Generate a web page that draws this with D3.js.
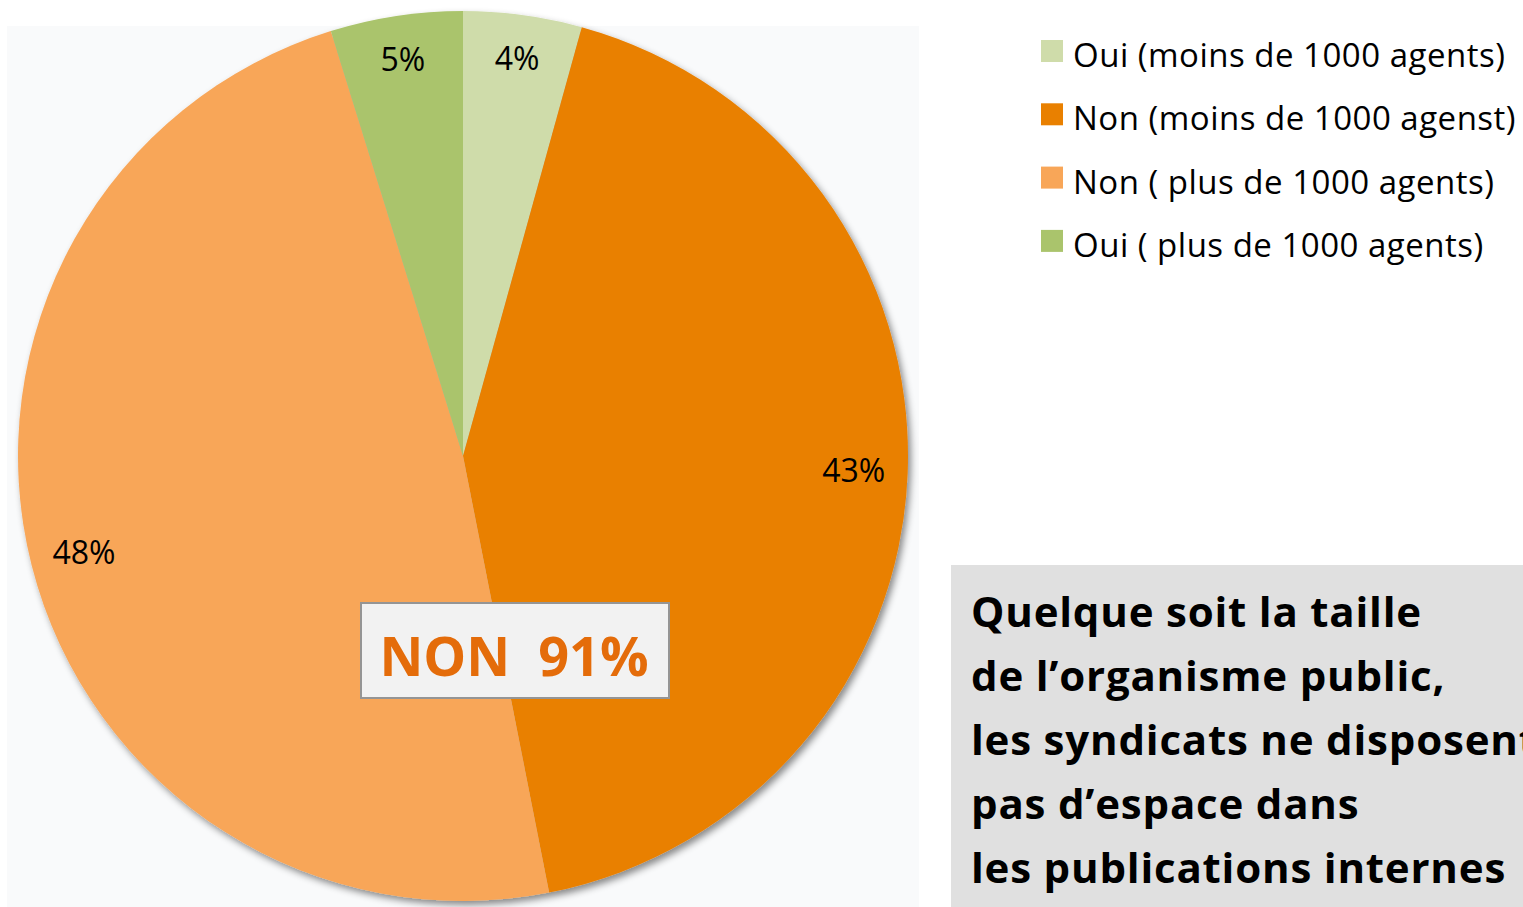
<!DOCTYPE html>
<html>
<head>
<meta charset="utf-8">
<script src="https://cdn.jsdelivr.net/npm/d3@7"></script>
<style>
  html, body { margin: 0; padding: 0; background: #ffffff; overflow: hidden; }
  svg { display: block; }
</style>
</head>
<body>
<svg id="chart" width="1523" height="907"></svg>
<script>
// ---- data ----
const categories = [
  "Oui (moins de 1000 agents)",
  "Non (moins de 1000 agenst)",
  "Non ( plus de 1000 agents)",
  "Oui ( plus de 1000 agents)"
];
const values = [4.3, 42.6, 48.3, 4.8];
const colors = ["#cfdcaa", "#e98000", "#f8a658", "#aac46c"];
const calloutText = "NON  91%";
const noteLines = [
  "Quelque soit la taille",
  "de l\u2019organisme public,",
  "les syndicats ne disposent",
  "pas d\u2019espace dans",
  "les publications internes"
];

// ---- layout ----
const svg = d3.select("#chart");
const font = "'Open Sans', sans-serif";
const cx = 463, cy = 456, R = 445;

const defs = svg.append("defs");
const f = defs.append("filter").attr("id", "shadow")
  .attr("x", "-10%").attr("y", "-10%").attr("width", "120%").attr("height", "120%");
f.append("feDropShadow").attr("dx", 3).attr("dy", 4).attr("stdDeviation", 3.5)
  .attr("flood-color", "#000").attr("flood-opacity", 0.45);

// plot-area background
svg.append("rect").attr("x", 7).attr("y", 26).attr("width", 912).attr("height", 881)
  .attr("fill", "#f9fafb");

const pie = d3.pie().sort(null).value(d => d.v);
const data = pie(values.map((v, i) => ({ v, i })));
const arc = d3.arc().innerRadius(0).outerRadius(R);
// label radius: a little further out for small slices near the top
const labelR = d => (d.endAngle - d.startAngle) < 0.5 ? 401 : 391;

const g = svg.append("g").attr("transform", `translate(${cx},${cy})`);
g.append("g").attr("filter", "url(#shadow)")
  .selectAll("path").data(data).join("path")
  .attr("d", arc)
  .attr("fill", d => colors[d.data.i]);

g.selectAll("text.lbl").data(data).join("text")
  .attr("class", "lbl")
  .attr("transform", d => {
    const r = labelR(d);
    return `translate(${d3.arc().innerRadius(r).outerRadius(r).centroid(d)})`;
  })
  .attr("text-anchor", "middle")
  .attr("dy", "0.36em")
  .attr("font-family", font)
  .attr("font-size", 32)
  .attr("fill", "#000")
  .text(d => Math.round(d.data.v) + "%");

// callout box
svg.append("rect").attr("x", 361).attr("y", 603).attr("width", 308).attr("height", 95)
  .attr("fill", "#f2f2f2").attr("stroke", "#959595").attr("stroke-width", 2);
svg.append("text").attr("x", 514).attr("y", 676)
  .attr("text-anchor", "middle")
  .attr("font-family", font).attr("font-weight", "bold").attr("font-size", 54)
  .attr("fill", "#e46c0a")
  .attr("xml:space", "preserve")
  .style("white-space", "pre")
  .text(calloutText);

// legend
const leg = svg.append("g");
categories.forEach((c, i) => {
  const y = 40 + i * 63.3;
  leg.append("rect").attr("x", 1041).attr("y", y).attr("width", 22).attr("height", 22)
    .attr("fill", colors[i]);
  leg.append("text").attr("x", 1073).attr("y", y + 27)
    .attr("font-family", font).attr("font-size", 33).attr("fill", "#000")
    .attr("letter-spacing", 0.5)
    .text(c);
});

// note box
svg.append("rect").attr("x", 951).attr("y", 565).attr("width", 580).attr("height", 350)
  .attr("fill", "#e0e0e0");
const note = svg.append("g");
noteLines.forEach((t, i) => {
  note.append("text").attr("x", 971).attr("y", 627 + i * 64)
    .attr("font-family", font).attr("font-weight", "bold").attr("font-size", 42)
    .attr("letter-spacing", 0.8)
    .attr("fill", "#000")
    .text(t);
});
</script>
</body>
</html>
